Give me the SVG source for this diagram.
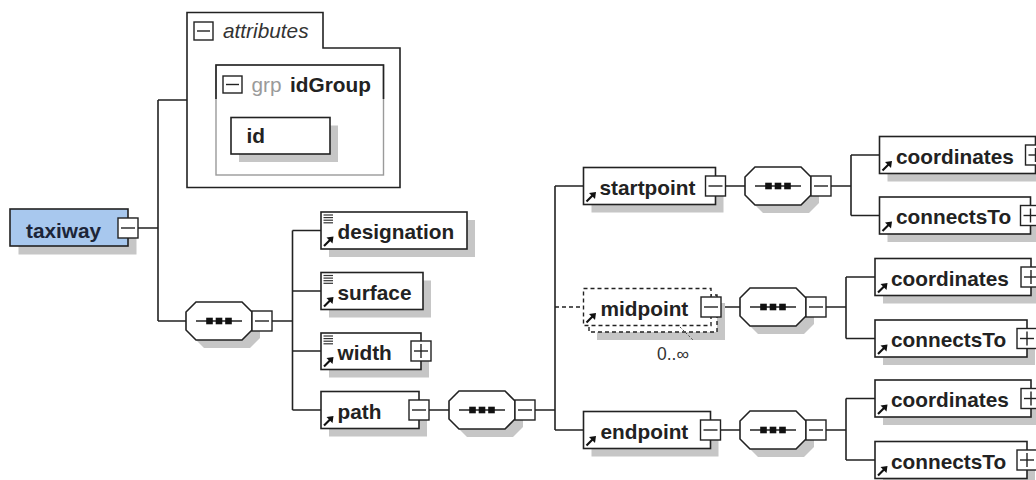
<svg xmlns="http://www.w3.org/2000/svg" xmlns:xlink="http://www.w3.org/1999/xlink" width="1036" height="480" viewBox="0 0 1036 480">
<style>
.bg{fill:#fff}
.box{fill:#fff;stroke:#222;stroke-width:1.6}
.shadow{fill:#c6c6c6}
.t{font-family:'Liberation Sans',Arial,sans-serif;font-weight:bold;font-size:20.8px;fill:#222}
.conn{stroke:#222;stroke-width:1.6;fill:none}
.dash{stroke:#222;stroke-width:1.4;fill:none;stroke-dasharray:4 3}
.dbox{stroke:#222;stroke-width:1.4;fill:#fff;stroke-dasharray:4 3}
.btn{fill:#fff;stroke:#222;stroke-width:1.4}
.sign{stroke:#222;stroke-width:1.4;fill:none}
</style>
<defs>
<g id="minus"><rect x="-10" y="-10" width="20" height="20" class="btn"/><line x1="-7" y1="0" x2="7" y2="0" class="sign"/></g>
<g id="plus"><rect x="-10" y="-10" width="20" height="20" class="btn"/><line x1="-7" y1="0" x2="7" y2="0" class="sign"/><line x1="0" y1="-7" x2="0" y2="7" class="sign"/></g>
<g id="ref"><line x1="3" y1="-3" x2="9" y2="-9" stroke="#111" stroke-width="2.2"/><polygon points="12.5,-12.5 5.5,-11.5 11.5,-5.5" fill="#111"/></g>
<g id="doc" stroke="#333" stroke-width="1.2"><line x1="2.5" y1="3" x2="12" y2="3"/><line x1="2.5" y1="5.6" x2="12" y2="5.6"/><line x1="2.5" y1="8.2" x2="12" y2="8.2"/><line x1="2.5" y1="10.8" x2="12" y2="10.8"/></g>
<g id="seq">
<polygon points="18,8 64,8 74,18 74,36 64,46 18,46 8,36 8,18" class="shadow"/>
<polygon points="10,0 56,0 66,10 66,28 56,38 10,38 0,28 0,10" class="box"/>
<line x1="10" y1="19" x2="56" y2="19" class="sign"/>
<rect x="20.2" y="15.7" width="6.6" height="6.6" fill="#111"/>
<rect x="29.7" y="15.7" width="6.6" height="6.6" fill="#111"/>
<rect x="39.2" y="15.7" width="6.6" height="6.6" fill="#111"/>
<use xlink:href="#minus" x="76" y="19"/>
</g>
</defs>
<rect class="bg" x="0" y="0" width="1036" height="480"/>

<g id="connectors">
<path class="conn" d="M137.5,228 H158 M158,100 V321 M158,100 H187 M158,321 H186"/>
<path class="conn" d="M272,321 H292.5 M292.5,230.5 V410 M292.5,230.5 H321 M292.5,291 H321 M292.5,351 H321 M292.5,410 H321"/>
<path class="conn" d="M429,410 H449 M535,410 H555 M555,186 V430 M555,186 H583.5 M555,430 H583.5"/>
<path class="dash" d="M555,307 H583.5"/>
<path class="conn" d="M725.5,186 H745 M721,307 H740 M720.5,430 H740"/>
<path class="conn" d="M831,186 H851 M851,155 V215.5 M851,155 H879.5 M851,215.5 H879.5"/>
<path class="conn" d="M826,307 H846 M846,277 V338.5 M846,277 H875 M846,338.5 H875"/>
<path class="conn" d="M826,430 H846 M846,398.5 V460 M846,398.5 H875 M846,460 H875"/>
</g>

<g id="taxiway">
<rect class="shadow" x="18.5" y="217.5" width="118" height="37"/>
<rect x="10" y="209" width="118" height="37" fill="#a8c8ee" stroke="#222" stroke-width="1.6"/>
<text class="t" x="26" y="237.5" style="fill:#1c2538">taxiway</text>
<use xlink:href="#minus" x="128" y="228"/>
</g>

<g id="attributes">
<polygon points="187,12.5 323,12.5 323,48 400,48 400,187.5 187,187.5" fill="#fff" stroke="#222" stroke-width="1.6"/>
<rect x="194" y="22" width="19" height="18" fill="#fff" stroke="#222" stroke-width="1.4"/>
<line x1="197" y1="31" x2="210" y2="31" class="sign"/>
<text x="223" y="38" font-family="'Liberation Sans',Arial,sans-serif" font-style="italic" font-size="20.8" fill="#333">attributes</text>
</g>

<g id="idGroup">
<rect x="216" y="65" width="167.5" height="110" fill="#fff" stroke="#9a9a9a" stroke-width="1.4"/>
<path d="M216,99 V65 H383.5 V99" fill="none" stroke="#222" stroke-width="1.6"/>
<rect x="223" y="76" width="19" height="17" fill="#fff" stroke="#222" stroke-width="1.4"/>
<line x1="226" y1="84.5" x2="239" y2="84.5" class="sign"/>
<text x="251.5" y="92" font-family="'Liberation Sans',Arial,sans-serif" font-size="20.8" fill="#9a9a9a">grp</text>
<text class="t" x="290" y="92">idGroup</text>
</g>

<g id="id">
<rect class="shadow" x="239" y="125.5" width="99" height="36.5"/>
<rect class="box" x="231" y="117.5" width="99" height="36.5"/>
<text class="t" x="246.5" y="143">id</text>
</g>

<g id="seq-taxiway"><use xlink:href="#seq" x="186" y="302"/></g>

<g id="designation">
<rect class="shadow" x="329" y="220" width="146" height="37"/>
<rect class="box" x="321" y="212" width="146" height="37"/>
<use xlink:href="#doc" x="321" y="212"/>
<use xlink:href="#ref" x="321" y="249"/>
<text class="t" x="337.5" y="239">designation</text>
</g>

<g id="surface">
<rect class="shadow" x="329" y="280.5" width="102" height="37"/>
<rect class="box" x="321" y="272.5" width="102" height="37"/>
<use xlink:href="#doc" x="321" y="272.5"/>
<use xlink:href="#ref" x="321" y="309.5"/>
<text class="t" x="337.5" y="299.5">surface</text>
</g>

<g id="width">
<rect class="shadow" x="329" y="341" width="100" height="36.5"/>
<rect class="box" x="321" y="333" width="100" height="36.5"/>
<use xlink:href="#doc" x="321" y="333"/>
<use xlink:href="#ref" x="321" y="369.5"/>
<text class="t" x="337.5" y="359.5">width</text>
<use xlink:href="#plus" x="421" y="351"/>
</g>

<g id="path">
<rect class="shadow" x="329" y="399.5" width="98" height="37"/>
<rect class="box" x="321" y="391.5" width="98" height="37"/>
<use xlink:href="#ref" x="321" y="428.5"/>
<text class="t" x="337.5" y="418.5">path</text>
<use xlink:href="#minus" x="419" y="410"/>
</g>

<g id="seq-path"><use xlink:href="#seq" x="449" y="391"/></g>

<g id="startpoint">
<rect class="shadow" x="591.5" y="175.5" width="132" height="37"/>
<rect class="box" x="583.5" y="167.5" width="132" height="37"/>
<use xlink:href="#ref" x="583.5" y="204.5"/>
<text class="t" x="599.5" y="194.5">startpoint</text>
<use xlink:href="#minus" x="715.5" y="186"/>
</g>

<g id="midpoint">
<rect class="shadow" x="597" y="303" width="128" height="37"/>
<rect class="dbox" x="589" y="295" width="128" height="37"/>
<rect class="dbox" x="583.5" y="288.5" width="127.5" height="37"/>
<use xlink:href="#ref" x="583.5" y="325.5"/>
<text class="t" x="600.5" y="315.5">midpoint</text>
<use xlink:href="#minus" x="711" y="307"/>
<line x1="680" y1="327" x2="693" y2="340" stroke="#444" stroke-width="1" stroke-dasharray="2 2"/>
<text x="657" y="360" font-family="'Liberation Sans',Arial,sans-serif" font-size="17.5" fill="#333">0..∞</text>
</g>

<g id="endpoint">
<rect class="shadow" x="591.5" y="419.5" width="127" height="37"/>
<rect class="box" x="583.5" y="411.5" width="127" height="37"/>
<use xlink:href="#ref" x="583.5" y="448.5"/>
<text class="t" x="600.5" y="438.5">endpoint</text>
<use xlink:href="#minus" x="710.5" y="430"/>
</g>

<g id="seq-startpoint"><use xlink:href="#seq" x="745" y="167"/></g>
<g id="seq-midpoint"><use xlink:href="#seq" x="740" y="288"/></g>
<g id="seq-endpoint"><use xlink:href="#seq" x="740" y="411"/></g>

<g id="coordinates-start">
<rect class="shadow" x="887.5" y="144.5" width="156" height="37"/>
<rect class="box" x="879.5" y="136.5" width="156" height="37"/>
<use xlink:href="#ref" x="879.5" y="173.5"/>
<text class="t" x="896" y="163.5">coordinates</text>
<use xlink:href="#plus" x="1035.5" y="155"/>
</g>

<g id="connectsTo-start">
<rect class="shadow" x="887.5" y="205" width="151" height="37"/>
<rect class="box" x="879.5" y="197" width="151" height="37"/>
<use xlink:href="#ref" x="879.5" y="234"/>
<text class="t" x="896" y="224">connectsTo</text>
<use xlink:href="#plus" x="1030.5" y="215.5"/>
</g>

<g id="coordinates-mid">
<rect class="shadow" x="883" y="266.5" width="156" height="37"/>
<rect class="box" x="875" y="258.5" width="156" height="37"/>
<use xlink:href="#ref" x="875" y="295.5"/>
<text class="t" x="891" y="285.5">coordinates</text>
<use xlink:href="#plus" x="1031" y="277"/>
</g>

<g id="connectsTo-mid">
<rect class="shadow" x="883" y="328" width="152" height="37"/>
<rect class="box" x="875" y="320" width="152" height="37"/>
<use xlink:href="#ref" x="875" y="357"/>
<text class="t" x="891" y="347">connectsTo</text>
<use xlink:href="#plus" x="1027" y="338.5"/>
</g>

<g id="coordinates-end">
<rect class="shadow" x="883" y="388" width="156" height="37"/>
<rect class="box" x="875" y="380" width="156" height="37"/>
<use xlink:href="#ref" x="875" y="417"/>
<text class="t" x="891" y="407">coordinates</text>
<use xlink:href="#plus" x="1031" y="398.5"/>
</g>

<g id="connectsTo-end">
<rect class="shadow" x="883" y="449.5" width="152" height="37"/>
<rect class="box" x="875" y="441.5" width="152" height="37"/>
<use xlink:href="#ref" x="875" y="478.5"/>
<text class="t" x="891" y="468.5">connectsTo</text>
<use xlink:href="#plus" x="1027" y="460"/>
</g>
</svg>
